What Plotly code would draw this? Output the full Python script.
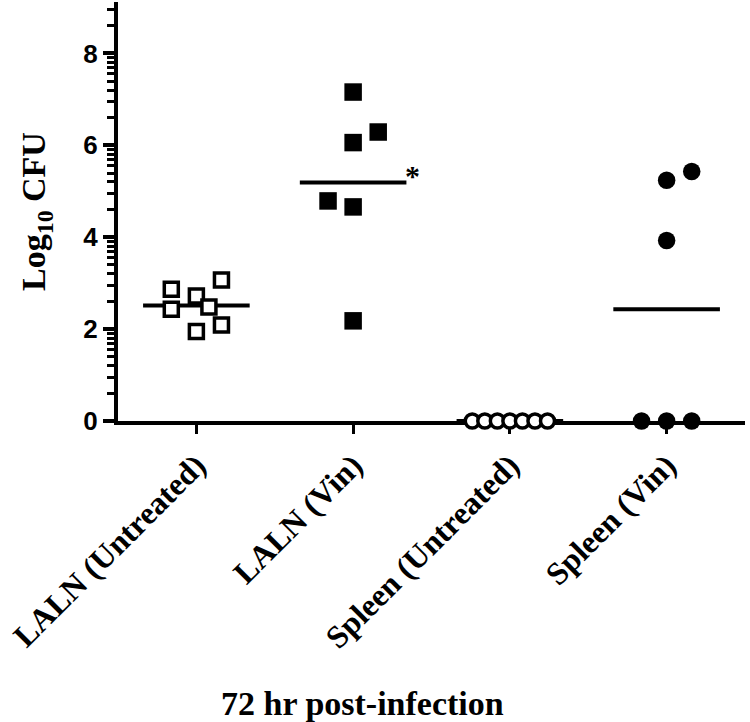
import numpy as np
import plotly.graph_objects as go

# ---- data ----
categories = ["LALN (Untreated)", "LALN (Vin)", "Spleen (Untreated)", "Spleen (Vin)"]

laln_untreated = [3.07, 2.87, 2.72, 2.48, 2.43, 2.09, 1.95]
laln_untreated_slot = [2, -2, 0, 1, -2, 2, 0]

laln_vin = [7.16, 6.29, 6.06, 4.79, 4.66, 2.18]
laln_vin_slot = [0, 2, 0, -2, 0, 0]

spleen_untreated = [0, 0, 0, 0, 0, 0, 0]
spleen_untreated_slot = [-3, -2, -1, 0, 1, 2, 3]

spleen_vin = [5.43, 5.24, 3.93, 0, 0, 0]
spleen_vin_slot = [2, 0, 0, -2, 0, 2]

y_tick_values = [0, 2, 4, 6, 8]
y_title = "Log<sub>10</sub> CFU"
x_title = "72 hr post-infection"
significance = "*"

# ---- style ----
SLOT = 0.08          # horizontal spacing of stacked points (category units)
MEAN_HALF = 0.34     # half width of mean line
SERIF = "Liberation Serif"
SANS = "Liberation Sans"

groups = [
    (laln_untreated, laln_untreated_slot, "square", "white"),
    (laln_vin, laln_vin_slot, "square", "black"),
    (spleen_untreated, spleen_untreated_slot, "circle", "white"),
    (spleen_vin, spleen_vin_slot, "circle", "black"),
]

fig = go.Figure()

means = []
for i, (vals, slots, sym, fill) in enumerate(groups):
    m = float(np.mean(vals))
    means.append(m)
    fig.add_trace(go.Scatter(
        x=[i - MEAN_HALF, i + MEAN_HALF], y=[m, m], mode="lines",
        line=dict(color="black", width=4), showlegend=False,
        hoverinfo="skip", cliponaxis=False))

for i, (vals, slots, sym, fill) in enumerate(groups):
    xs = [i + s * SLOT for s in slots]
    if fill == "white":
        marker = dict(symbol=sym, size=14, color="white",
                      line=dict(color="black", width=3.5))
    else:
        marker = dict(symbol=sym, size=17.5, color="black",
                      line=dict(color="black", width=0))
    fig.add_trace(go.Scatter(x=xs, y=vals, mode="markers", marker=marker,
                             showlegend=False, cliponaxis=False))

# minor ticks (log-like pattern between major ticks)
minor_vals = []
for base in y_tick_values:
    for k in range(2, 10):
        v = base + 2 * np.log10(k)
        if v <= 9.12:
            minor_vals.append(round(float(v), 4))

fig.add_annotation(x=1 + MEAN_HALF, y=means[1], xref="x", yref="y",
                   text=significance, showarrow=False, xanchor="left",
                   yanchor="middle", xshift=-3, yshift=7,
                   font=dict(family=SERIF, size=30, color="black", weight="bold"))

fig.add_annotation(x=(362 - 118) / 627, y=-0.675, xref="paper", yref="paper",
                   text=x_title, showarrow=False, xanchor="center",
                   yanchor="middle",
                   font=dict(family=SERIF, size=34, color="black", weight="bold"))

fig.update_layout(
    width=750, height=722,
    margin=dict(l=118, r=5, t=2, b=301, autoexpand=False),
    paper_bgcolor="white", plot_bgcolor="white",
    xaxis=dict(
        range=[-0.5, 3.5], tickmode="array", tickvals=[0, 1, 2, 3],
        ticktext=categories, tickangle=-45, automargin=False,
        showline=True, linecolor="black", linewidth=4,
        ticks="outside", ticklen=9, tickwidth=3, tickcolor="black",
        showgrid=False, zeroline=False, layer="below traces",
        tickfont=dict(family=SERIF, size=32, color="black", weight="bold"),
    ),
    yaxis=dict(
        range=[0, 9.12], tickmode="array", tickvals=y_tick_values,
        automargin=False,
        showline=True, linecolor="black", linewidth=4,
        ticks="outside", ticklen=11, tickwidth=4, tickcolor="black",
        showgrid=False, zeroline=False, layer="below traces",
        tickfont=dict(family=SANS, size=26, color="black", weight="bold"),
        minor=dict(tickmode="array", tickvals=minor_vals, ticks="outside",
                   ticklen=7, tickwidth=3, tickcolor="black", showgrid=False),
        title=dict(text=y_title, standoff=28,
                   font=dict(family=SERIF, size=34, color="black", weight="bold")),
    ),
)

fig.write_html("out.html",
               config={"displayModeBar": False},
               post_script="document.body.style.margin='0px';"
                           "document.body.style.overflow='hidden';")
